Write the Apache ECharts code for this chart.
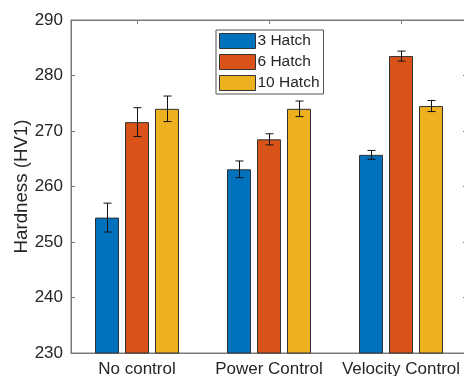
<!DOCTYPE html>
<html>
<head>
<meta charset="utf-8">
<script src="https://cdn.jsdelivr.net/npm/echarts@6/dist/echarts.min.js"></script>
<style>html,body{margin:0;padding:0;background:#fff;}#c{width:464px;height:376px;}</style>
</head>
<body>
<div id="c"></div>
<script>
const categories = ['No control', 'Power Control', 'Velocity Control'];
const seriesNames = ['3 Hatch', '6 Hatch', '10 Hatch'];
const hatch3 = [254.4, 263.1, 265.7];
const hatch6 = [271.6, 268.5, 283.5];
const hatch10 = [274.0, 274.0, 274.5];
const err3 = [2.6, 1.5, 0.8];
const err6 = [2.6, 1.0, 0.9];
const err10 = [2.3, 1.4, 1.0];
const yTicks = [230, 240, 250, 260, 270, 280, 290];

const colors = ['#0072BD', '#D95319', '#EDB120'];
const values = [hatch3, hatch6, hatch10];
const errs = [err3, err6, err10];
const BAR_W = 24, BAR_GAP = 0.25;
const FONT = 'Liberation Sans, Arial, Helvetica, sans-serif';
const axisCol = '#7a7a7a';
const textCol = '#262626';

const chart = echarts.init(document.getElementById('c'), null, {renderer: 'canvas'});

const series = [];
values.forEach((vals, i) => {
  series.push({
    name: seriesNames[i], type: 'bar', data: vals,
    barWidth: BAR_W, barGap: (BAR_GAP * 100) + '%',
    itemStyle: {color: colors[i], borderColor: '#333', borderWidth: 1},
    emphasis: {disabled: true}, z: 2
  });
});
values.forEach((vals, i) => {
  const offset = (i - 1) * BAR_W * (1 + BAR_GAP);
  series.push({
    type: 'custom', z: 5, silent: true,
    data: vals.map((v, k) => [k, v, errs[i][k]]),
    renderItem: function (params, api) {
      const c = api.value(0), v = api.value(1), e = api.value(2);
      const top = api.coord([c, v + e]);
      const bot = api.coord([c, v - e]);
      const x = Math.round(top[0] + offset) + 0.5;
      const cap = 4;
      const st = {stroke: '#111', lineWidth: 1};
      return {type: 'group', children: [
        {type: 'line', shape: {x1: x, y1: top[1], x2: x, y2: bot[1]}, style: st},
        {type: 'line', shape: {x1: x - cap, y1: top[1], x2: x + cap, y2: top[1]}, style: st},
        {type: 'line', shape: {x1: x - cap, y1: bot[1], x2: x + cap, y2: bot[1]}, style: st}
      ]};
    }
  });
});

chart.setOption({
  animation: false,
  backgroundColor: '#fff',
  textStyle: {fontFamily: FONT},
  grid: {left: 71, top: 20, width: 396, height: 333, show: true, borderColor: axisCol, borderWidth: 1, backgroundColor: 'transparent', outerBoundsMode: 'none'},
  legend: {
    data: seriesNames, orient: 'vertical', left: 216, top: 30,
    icon: 'rect',
    itemWidth: 36, itemHeight: 15, itemGap: 5,
    padding: [3, 4, 3, 3],
    borderColor: '#555', borderWidth: 1, backgroundColor: '#fff',
    textStyle: {fontSize: 15.5, color: textCol, fontFamily: FONT, padding: [0, 0, 0, -3], lineHeight: 15},
    itemStyle: {borderColor: '#333', borderWidth: 1},
    selectedMode: false
  },
  xAxis: [{
    type: 'category', data: categories, position: 'bottom',
    axisLine: {show: true, lineStyle: {color: axisCol}},
    axisTick: {show: true, inside: true, alignWithLabel: true, length: 4, lineStyle: {color: axisCol}},
    axisLabel: {fontSize: 17, color: textCol, margin: 8, fontFamily: FONT, interval: 0}
  }, {
    type: 'category', data: categories, position: 'top',
    axisLine: {show: true, lineStyle: {color: axisCol}},
    axisTick: {show: true, inside: true, alignWithLabel: true, length: 4, lineStyle: {color: axisCol}},
    axisLabel: {show: false}
  }],
  yAxis: [{
    type: 'value', min: yTicks[0], max: yTicks[yTicks.length - 1], interval: 10,
    name: 'Hardness (HV1)', nameLocation: 'middle', nameGap: 40, nameMoveOverlap: false,
    nameTextStyle: {fontSize: 18.7, color: textCol, fontFamily: FONT},
    axisLine: {show: true, lineStyle: {color: axisCol}},
    axisTick: {show: true, inside: true, length: 4, lineStyle: {color: axisCol}},
    axisLabel: {fontSize: 17, color: textCol, margin: 8, fontFamily: FONT},
    splitLine: {show: false}
  }, {
    type: 'value', min: yTicks[0], max: yTicks[yTicks.length - 1], interval: 10, position: 'right',
    axisLine: {show: true, lineStyle: {color: axisCol}},
    axisTick: {show: true, inside: true, length: 4, lineStyle: {color: axisCol}},
    axisLabel: {show: false}, splitLine: {show: false}
  }],
  series: series
});
</script>
</body>
</html>
